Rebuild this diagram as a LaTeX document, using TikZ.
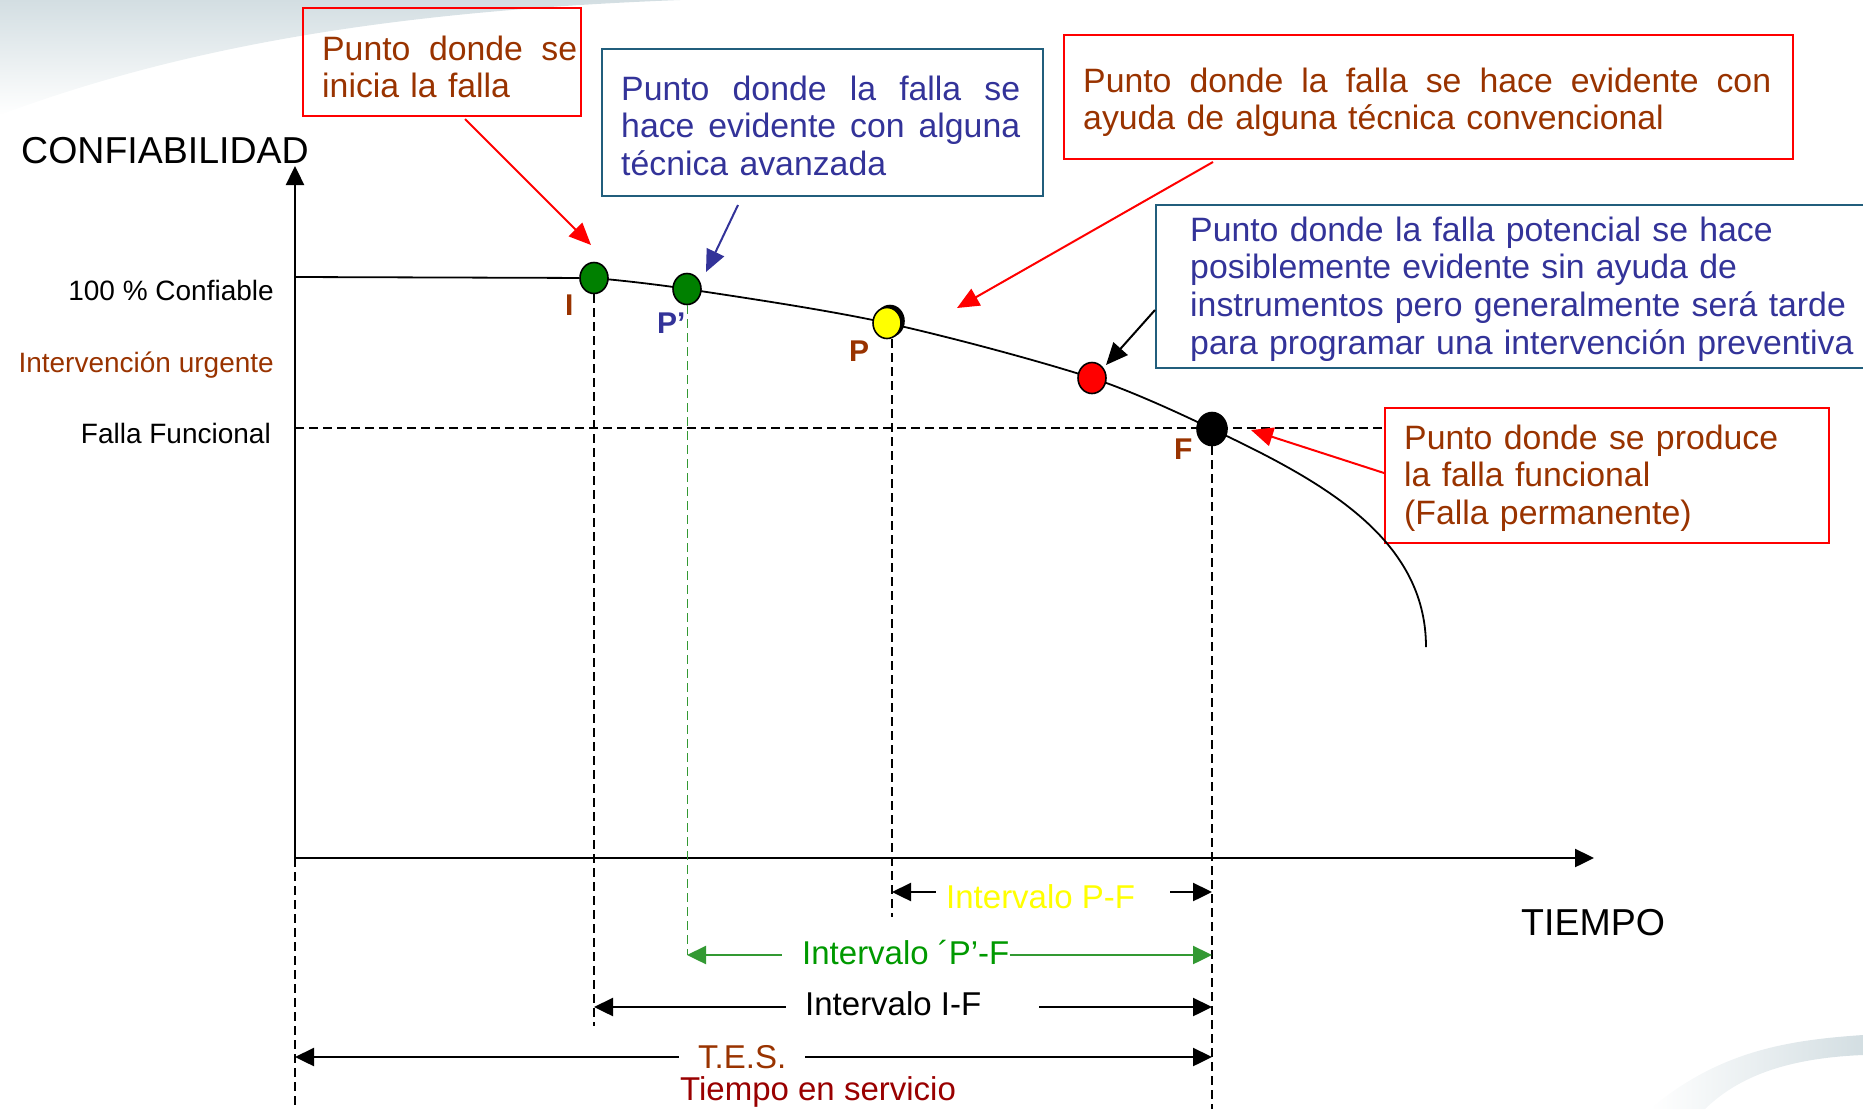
\documentclass[tikz,border=0pt]{standalone}
\usepackage{fontspec}
\setmainfont{Liberation Sans}
\usetikzlibrary{arrows.meta,shapes.geometric}
\definecolor{FailBrown}{HTML}{993300}
\definecolor{FailBlue}{HTML}{333399}
\definecolor{FailTeal}{HTML}{215E7C}
\definecolor{FailRed}{HTML}{FF0000}
\definecolor{FailGreen}{HTML}{008000}
\definecolor{FailLine}{HTML}{339933}
\definecolor{FailText}{HTML}{009900}
\definecolor{FailYellow}{HTML}{FFFF00}
\definecolor{FailMaroon}{HTML}{990000}
\definecolor{FailMist}{HTML}{D3DEE2}
\newcommand{\fullline}[2]{\leavevmode\hbox to #1{\spaceskip=\fontdimen2\font plus 1fil\relax #2}}

\begin{document}
\begin{tikzpicture}[x=1pt,y=-1pt,>={Triangle[length=19pt,width=18pt]}]
\tikzset{
  axisline/.style={line width=2.4pt},
  guideline/.style={line width=1.4pt,dash pattern=on 9pt off 5pt},
  lifecurve/.style={line width=1.8pt},
  faildot/.style={ellipse,draw=black,line width=1.6pt,minimum width=28pt,minimum height=31pt,inner sep=0pt},
  ptlabel/.style={font=\bfseries\fontsize{30}{32}\selectfont,anchor=base west,inner sep=0pt},
  leftlabel/.style={font=\fontsize{28}{30}\selectfont,anchor=base east,inner sep=0pt},
  axistitle/.style={font=\fontsize{37.5}{40}\selectfont,anchor=base west,inner sep=0pt},
  callout/.style={draw,line width=2pt,anchor=north west,inner sep=0pt},
  notetext/.style={font=\fontsize{33.8}{37.8}\selectfont,anchor=base west,inner sep=0pt,align=left},
  callarrow/.style={line width=2pt,-{Triangle[length=22pt,width=19pt]}},
  spanline/.style={line width=2.4pt},
  spantext/.style={font=\fontsize{33}{35}\selectfont,anchor=base west,inner xsep=0pt,inner ysep=4pt}
}
\useasboundingbox (0,0) rectangle (1863,1109);
\shade[top color=FailMist,bottom color=white] (0,0) -- (680,0) .. controls (420,10) and (200,40) .. (0,115) -- cycle;
\shade[left color=white,right color=FailMist] (1650,1109) .. controls (1720,1050) and (1790,1040) .. (1863,1035) -- (1863,1055) .. controls (1790,1058) and (1740,1075) .. (1705,1109) -- cycle;

\coordinate (O) at (295,858);
\coordinate (yTip) at (295,166);
\coordinate (xTip) at (1594,858);
\coordinate (yTop) at (295,277);
\coordinate (yFF) at (295,428);
\coordinate (cI) at (594,278);
\coordinate (cPp) at (687,289);
\coordinate (cP) at (887,323);
\coordinate (cR) at (1092,378);
\coordinate (cF) at (1212,429);
\coordinate (cEnd) at (1426,647);
\coordinate (vI) at (594,1026);
\coordinate (vP) at (892,917);
\coordinate (vF) at (1212,1109);
\coordinate (vO) at (295,1109);

\node[callout,draw=FailRed,minimum width=278pt,minimum height=108pt] (b1) at (302,7) {};
\node[callout,draw=FailTeal,minimum width=441pt,minimum height=147pt] (b2) at (601,48) {};
\node[callout,draw=FailRed,minimum width=729pt,minimum height=124pt] (b3) at (1063,34) {};
\node[callout,draw=FailTeal,minimum width=715pt,minimum height=163pt] (b4) at (1155,204) {};
\node[callout,draw=FailRed,minimum width=444pt,minimum height=135pt] (b5) at (1384,407) {};

\node[notetext,text=FailBrown,text width=255pt] (t1) at (322,60) {\fullline{255pt}{Punto donde se}\\inicia la falla};
\node[notetext,text=FailBlue,text width=399pt] (t2) at (621,100) {\fullline{399pt}{Punto donde la falla se}\\\fullline{399pt}{hace evidente con alguna}\\técnica avanzada};
\node[notetext,text=FailBrown,text width=688pt] (t3) at (1083,92) {\fullline{688pt}{Punto donde la falla se hace evidente con}\\ayuda de alguna técnica convencional};
\node[notetext,text=FailBlue,text width=680pt] (t4) at (1190,241) {Punto donde la falla potencial se hace\\posiblemente evidente sin ayuda de\\instrumentos pero generalmente será tarde\\para programar una intervención preventiva};
\node[notetext,text=FailBrown,text width=420pt] (t5) at (1404,449) {Punto donde se produce\\la falla funcional\\(Falla permanente)};

\node[axistitle] (tY) at (21,163) {CONFIABILIDAD};
\node[axistitle] (tX) at (1521,935) {TIEMPO};
\node[leftlabel] (lTop) at (274,300) {100 \% Confiable};
\node[leftlabel,text=FailBrown] (lUrg) at (274,372) {Intervención urgente};
\node[leftlabel] (lFF) at (271,443) {Falla Funcional};

\draw[axisline,->] (O) -- (yTip);
\draw[axisline,->] (O) -- (xTip);
\draw[guideline] (O) -- (vO);
\draw[guideline] (yFF) -- (yFF -| b5.west);
\draw[lifecurve] plot[smooth,tension=0.55] coordinates {(cI) (cPp) (cP) (cR) (cF)} .. controls (1320,480) and (1426,537) .. (cEnd);

\node[faildot,fill=FailGreen] (dI) at (cI) {};
\node[faildot,fill=FailGreen] (dPp) at (cPp) {};
\node[faildot,fill=black] (dPs) at ([xshift=3pt,yshift=2pt]cP) {};
\node[faildot,fill=FailYellow] (dP) at (cP) {};
\node[faildot,fill=FailRed] (dR) at (cR) {};
\node[faildot,fill=black,minimum width=30pt,minimum height=33pt] (dF) at (cF) {};

\draw[lifecurve] (yTop) -- (dI);
\draw[guideline] (dI) -- (vI);
\draw[guideline,FailLine,line width=1pt] (dPp) -- (687,955);
\draw[guideline] (vP |- dP.south) -- (vP);
\draw[guideline] (dF) -- (vF);

\node[ptlabel,text=FailBrown] (lI) at (565,315) {I};
\node[ptlabel,text=FailBlue] (lPp) at (657,333) {P’};
\node[ptlabel,text=FailBrown] (lP) at (849,361) {P};
\node[ptlabel,text=FailBrown] (lF) at (1174,459) {F};

\coordinate (tipI) at (591,245);
\coordinate (tipPp) at (706,272);
\coordinate (tipC) at (957,308);
\coordinate (tipR) at (1106,365);
\coordinate (tipF) at (1251,430);
\draw[callarrow,FailRed] ([xshift=23pt,yshift=-2pt]b1.south) -- (tipI);
\draw[callarrow,FailBlue] ([xshift=-84.5pt,yshift=-8pt]b2.south) -- (tipPp);
\draw[callarrow,FailRed] ([xshift=-215.5pt,yshift=-2pt]b3.south) -- (tipC);
\draw[callarrow] ([yshift=-23.5pt]b4.west) -- (tipR);
\draw[callarrow,FailRed] ([yshift=2.5pt]b5.west) -- (tipF);

\coordinate (pfL) at (892,892);
\coordinate (pfR) at (1212,892);
\node[spantext,text=FailYellow] (tPF) at (936,908) {\kern10pt Intervalo P-F\kern35pt};
\draw[spanline,<-] (pfL) -- (pfL -| tPF.west);
\draw[spanline,->] (pfR -| tPF.east) -- (pfR);

\coordinate (pgL) at (687,955);
\coordinate (pgR) at (1212,955);
\node[spantext,text=FailText] (tPpF) at (782,964) {\kern20pt Intervalo ´P’-F};
\draw[spanline,FailLine,<-] (pgL) -- (pgL -| tPpF.west);
\draw[spanline,FailLine,->] (pgR -| tPpF.east) -- (pgR);

\coordinate (ifL) at (594,1007);
\coordinate (ifR) at (1212,1007);
\node[spantext] (tIF) at (786,1015) {\kern19pt Intervalo I-F\kern58pt};
\draw[spanline,<-] (ifL) -- (ifL -| tIF.west);
\draw[spanline,->] (ifR -| tIF.east) -- (ifR);

\coordinate (tsL) at (295,1057);
\coordinate (tsR) at (1212,1057);
\node[spantext,text=FailBrown] (tTES) at (679,1068) {\kern19pt T.E.S.\kern19pt};
\draw[spanline,<-] (tsL) -- (tsL -| tTES.west);
\draw[spanline,->] (tsR -| tTES.east) -- (tsR);
\node[spantext,text=FailMaroon] (tServ) at (680,1100) {Tiempo en servicio};
\end{tikzpicture}
\end{document}
